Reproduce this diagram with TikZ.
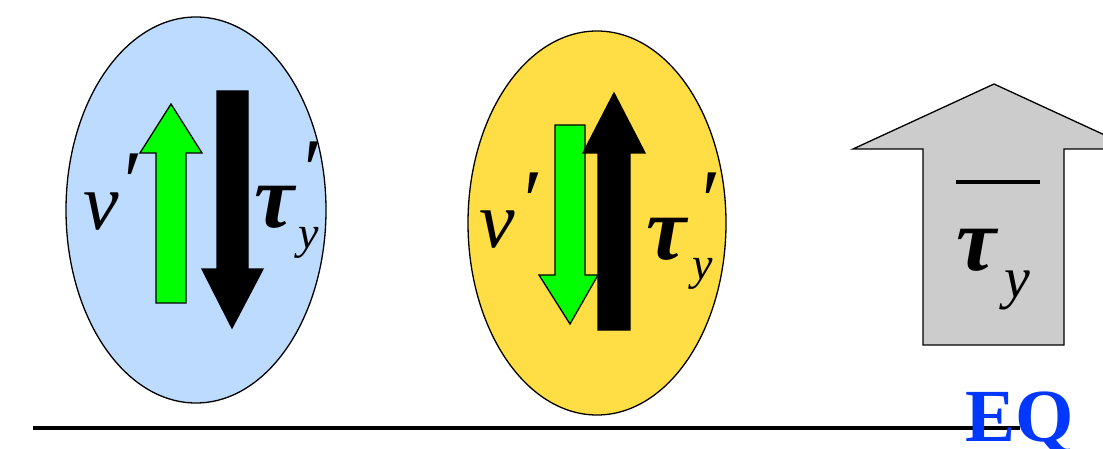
\documentclass[tikz,border=0pt]{standalone}
\usepackage{fontspec}
\setmainfont{Liberation Serif}
\definecolor{ellblue}{RGB}{189,219,255}
\definecolor{ellyellow}{RGB}{255,221,68}
\definecolor{arrgreen}{RGB}{0,255,0}
\definecolor{arrgray}{RGB}{204,204,204}
\definecolor{eqblue}{RGB}{0,56,255}
\tikzset{
  ell/.style={draw=black,line width=1.3pt},
  fatarrow/.style={draw=black,line width=1.3pt,line join=miter},
  nustyle/.style={inner sep=0pt,font=\fontsize{80}{80}\selectfont\itshape},
  taustyle/.style={inner sep=0pt,font=\fontsize{90}{90}\selectfont\bfseries\itshape},
  primemark/.style={inner sep=0pt,font=\fontsize{88}{88}\selectfont\itshape},
  subs/.style={inner sep=0pt,font=\fontsize{46}{46}\selectfont\itshape},
}
\begin{document}
\begin{tikzpicture}[x=1pt,y=-1pt]
\useasboundingbox (0,0) rectangle (1103,449);
% ellipses
\draw[ell,fill=ellblue] (196,210) ellipse [x radius=130,y radius=193];
\draw[ell,fill=ellyellow] (597,223) ellipse [x radius=129,y radius=192];
% blue group arrows
\draw[fatarrow,fill=arrgreen] (171,104) -- (202,153) -- (186,153) -- (186,303) -- (156,303) -- (156,153) -- (140,153) -- cycle;
\draw[fatarrow,fill=black] (232,328) -- (263,269) -- (248,269) -- (248,91) -- (217,91) -- (217,269) -- (202,269) -- cycle;
% yellow group arrows
\draw[fatarrow,fill=arrgreen] (570,324) -- (598,275) -- (585,275) -- (585,125) -- (555,125) -- (555,275) -- (539,275) -- cycle;
\draw[fatarrow,fill=black] (614,93) -- (645,153) -- (630,153) -- (630,330) -- (598,330) -- (598,153) -- (583,153) -- cycle;
% gray mean arrow
\draw[fatarrow,fill=arrgray] (994,84) -- (1135,149) -- (1064,149) -- (1064,345) -- (923,345) -- (923,149) -- (853,149) -- cycle;
% labels blue
\node[nustyle] (nu1) at (101,212) {ν};
\node[primemark] (nu1p) at (128,183) {′};
\node[taustyle] (tau1) at (274,207) {τ};
\node[primemark] (tau1p) at (308,171) {′};
\node[subs] (tau1y) at (309,243) {y};
% labels yellow
\node[nustyle] (nu2) at (497,230) {ν};
\node[primemark] (nu2p) at (528,202) {′};
\node[taustyle] (tau2) at (666,239) {τ};
\node[primemark] (tau2p) at (706,202) {′};
\node[subs] (tau2y) at (703,274) {y};
% mean tau
\node[taustyle] (tau3) at (976,250) {τ};
\node[inner sep=0pt,font=\fontsize{58}{58}\selectfont\itshape] (tau3y) at (1017,290) {y};
\coordinate (barL) at (956,182);
\coordinate (barR) at (1040,182);
\draw[line width=4pt] (barL) -- (barR);
% baseline and EQ
\coordinate (lineL) at (33,428);
\coordinate (lineR) at (1020,428);
\draw[line width=4pt] (lineL) -- (lineR);
\node[inner sep=0pt,anchor=base,text=eqblue,font=\fontsize{75}{75}\selectfont\bfseries] (eq) at (1020,441) {EQ};
\end{tikzpicture}
\end{document}
